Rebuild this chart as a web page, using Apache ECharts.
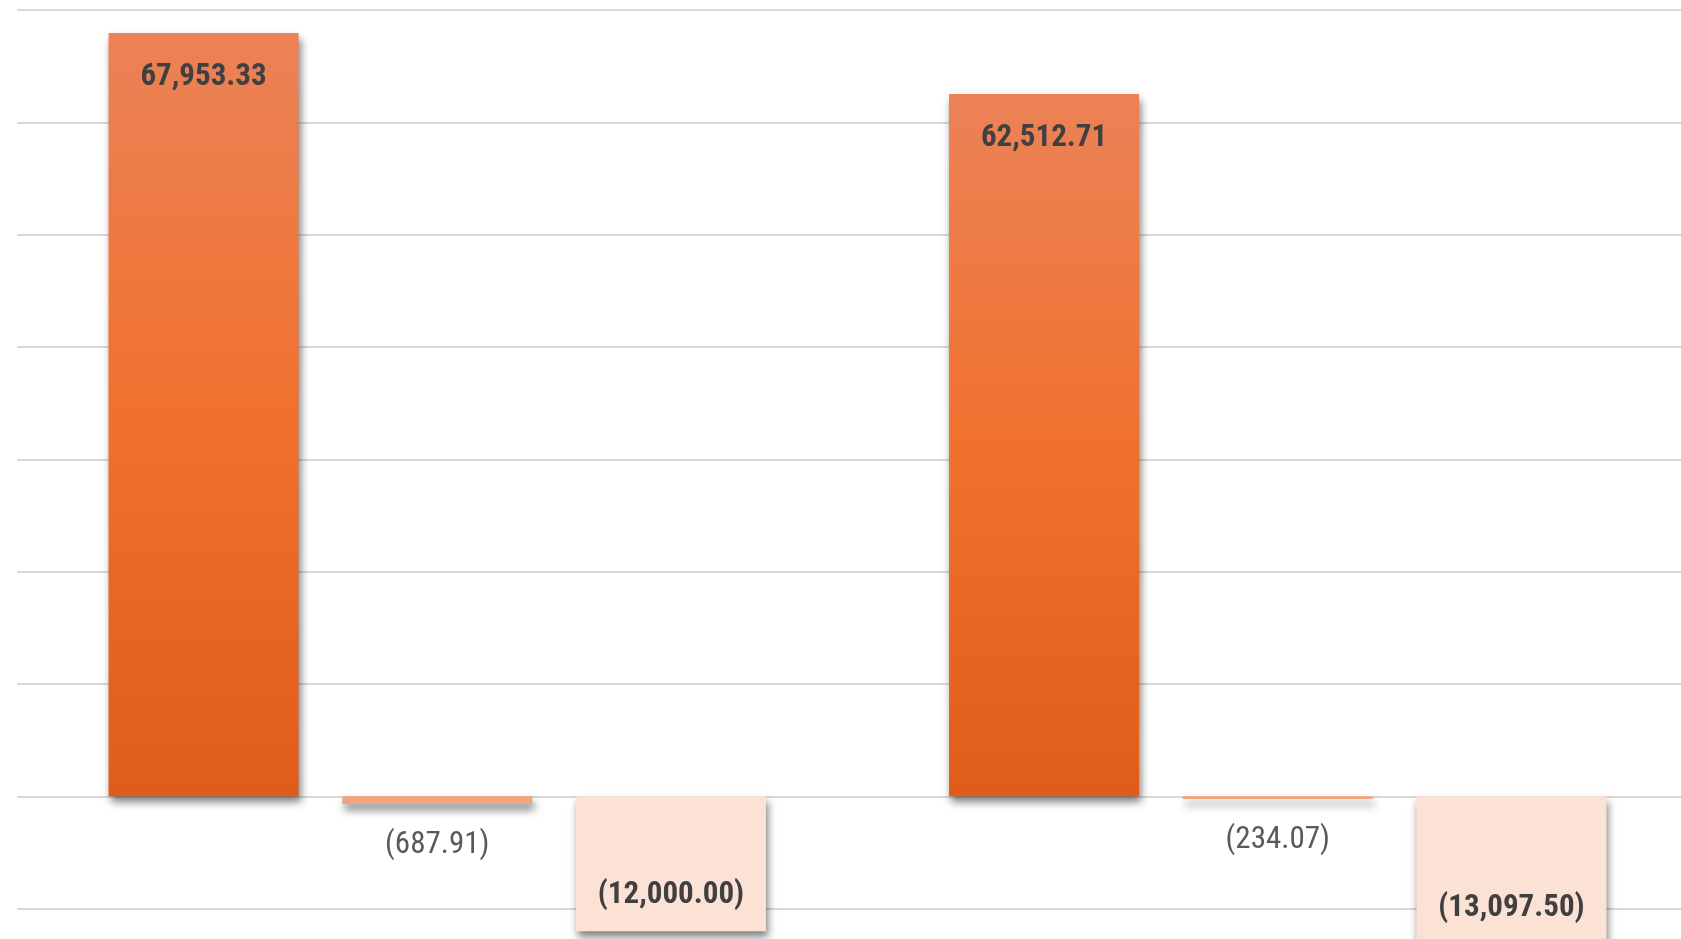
<!DOCTYPE html>
<html>
<head>
<meta charset="utf-8">
<script src="https://cdn.jsdelivr.net/npm/echarts@6/dist/echarts.min.js"></script>
<style>
html,body{margin:0;padding:0;background:#fff;}
#chart{width:1681px;height:939px;}
</style>
</head>
<body>
<div id="chart"></div>
<script>
const categories = ['A', 'B'];
const seriesMain = [67953.33, 62512.71];
const seriesSmall = [-687.91, -234.07];
const seriesLarge = [-12000.00, -13097.50];

const FONT = "'Liberation Sans Narrow', 'Roboto Condensed', 'DejaVu Sans Condensed', 'Liberation Sans', sans-serif";

function fmt(v) {
  const s = Math.abs(v).toLocaleString('en-US', {minimumFractionDigits: 2, maximumFractionDigits: 2});
  return v < 0 ? '(' + s + ')' : s;
}

const chart = echarts.init(document.getElementById('chart'));
const shadow = {shadowBlur: 8, shadowOffsetX: 2, shadowOffsetY: 6, shadowColor: 'rgba(0,0,0,0.5)'};

chart.setOption({
  animation: false,
  backgroundColor: '#ffffff',
  grid: {left: 17, top: 10, width: 1681, height: 1011, outerBoundsMode: 'none', containLabel: false},
  xAxis: {
    type: 'category',
    data: categories,
    axisLine: {show: false},
    axisTick: {show: false},
    axisLabel: {show: false}
  },
  yAxis: {
    type: 'value',
    min: -20000,
    max: 70000,
    interval: 10000,
    axisLabel: {show: false},
    axisLine: {show: false},
    axisTick: {show: false},
    splitLine: {lineStyle: {color: '#d9d9d9', width: 2}}
  },
  series: [
    {
      type: 'bar',
      data: seriesMain,
      barWidth: 190,
      barGap: '23%',
      clip: false,
      itemStyle: Object.assign({
        color: new echarts.graphic.LinearGradient(0, 0, 0, 1, [
          {offset: 0, color: '#EC8257'},
          {offset: 0.5, color: '#F0712E'},
          {offset: 1, color: '#E05C1A'}
        ])
      }, shadow),
      label: {
        show: true,
        position: 'insideTop',
        distance: 29,
        formatter: p => fmt(p.value),
        fontFamily: FONT,
        fontWeight: 'bold',
        fontSize: 31,
        color: '#404040'
      }
    },
    {
      type: 'bar',
      data: seriesSmall,
      barWidth: 190,
      clip: false,
      itemStyle: Object.assign({color: '#F2A47C'}, shadow),
      label: {
        show: true,
        position: 'bottom',
        distance: 26,
        formatter: p => fmt(p.value),
        fontFamily: FONT,
        fontWeight: 'normal',
        fontSize: 31,
        color: '#595959'
      }
    },
    {
      type: 'bar',
      data: seriesLarge,
      barWidth: 190,
      clip: false,
      itemStyle: Object.assign({color: '#FBE2D5'}, shadow),
      label: {
        show: true,
        position: 'insideBottom',
        distance: 20,
        formatter: p => fmt(p.value),
        fontFamily: FONT,
        fontWeight: 'bold',
        fontSize: 31,
        color: '#404040'
      }
    }
  ]
});
</script>
</body>
</html>
